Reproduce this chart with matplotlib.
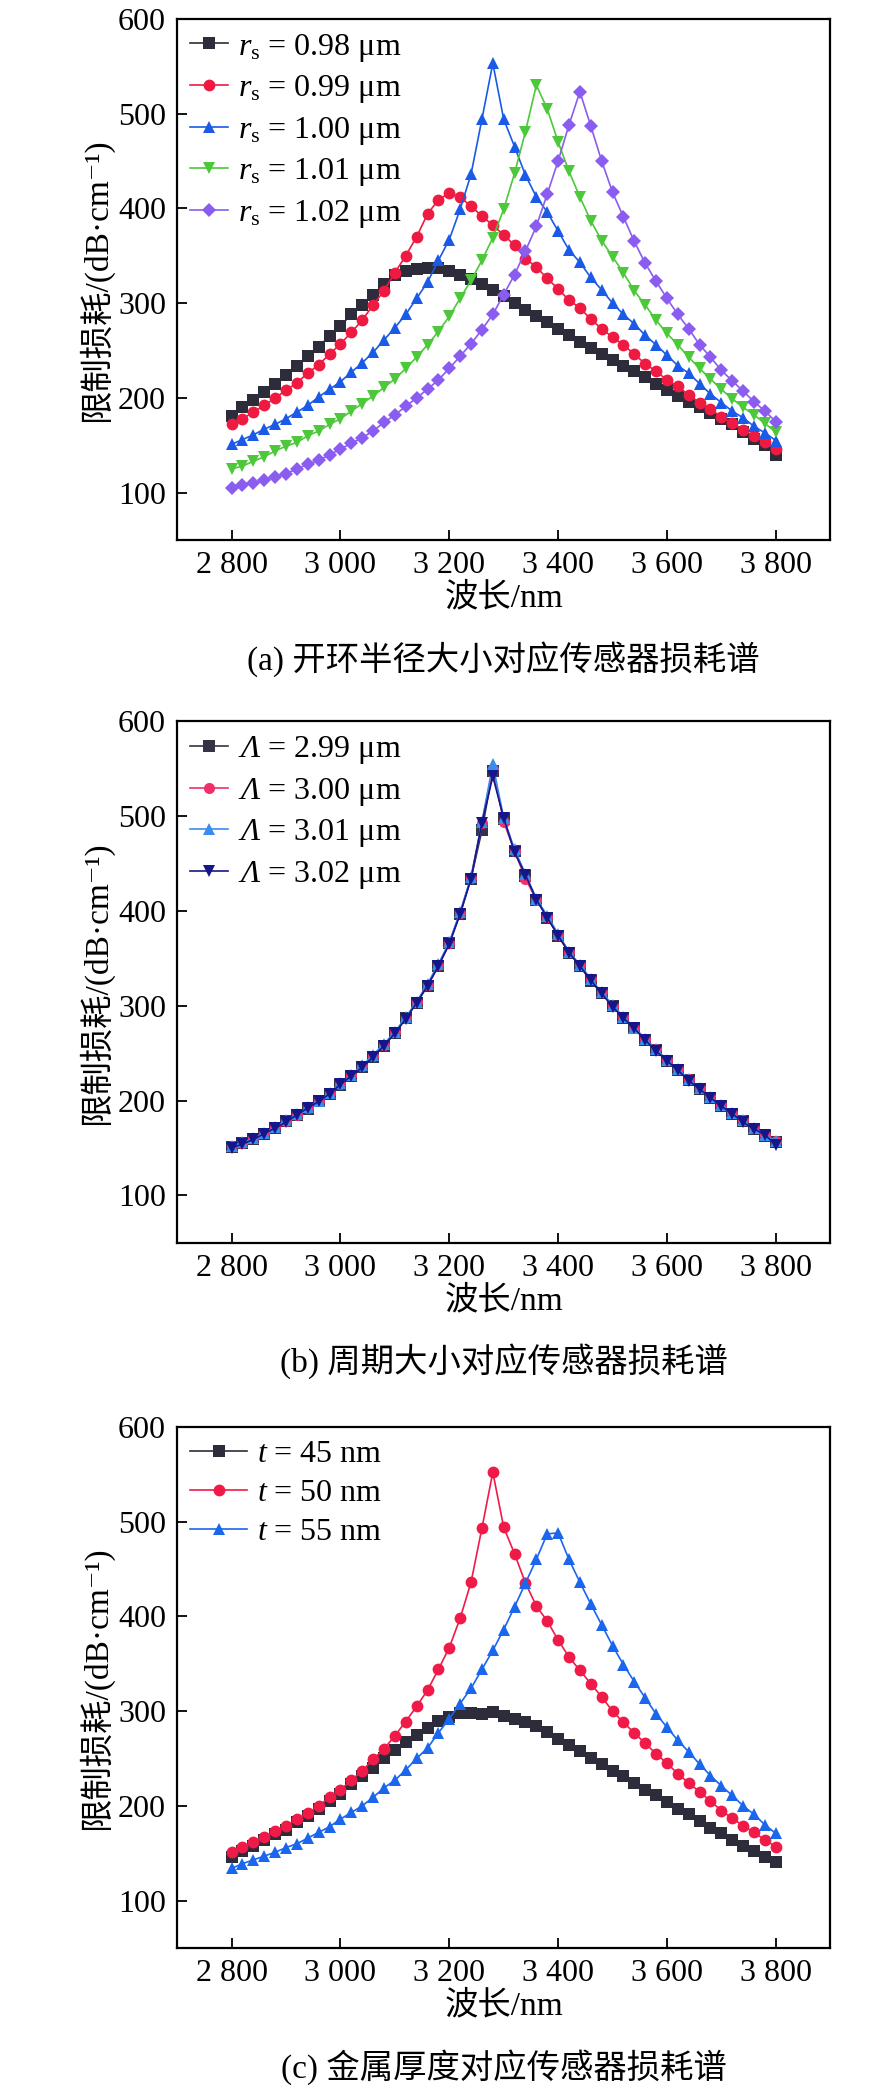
import matplotlib
matplotlib.use("Agg")
import matplotlib.pyplot as plt
from matplotlib.ticker import FixedLocator

plt.rcParams['font.family'] = ['Liberation Serif', 'Noto Sans CJK SC', 'DejaVu Serif']
plt.rcParams['mathtext.fontset'] = 'custom'
plt.rcParams['mathtext.rm'] = 'Liberation Serif'
plt.rcParams['mathtext.it'] = 'Liberation Serif:italic'
# capital Greek is forced upright in \mathit, so bf slot carries the italic face
plt.rcParams['mathtext.bf'] = 'Liberation Serif:italic'

# wavelength in nm, one point every 20 nm
wavelength = list(range(2800, 3801, 20))

# (a) ring opening radius
rs_098 = [181, 190, 198, 206, 215, 224, 234, 244, 254, 265,
          276, 288, 298, 309, 320, 330, 334, 336, 337, 337,
          334, 330, 325, 320, 314, 307, 300, 293, 286, 280,
          273, 266, 259, 253, 246, 240, 234, 228, 222, 215,
          208, 202, 196, 190, 184, 178, 172, 164, 157, 150, 140]
rs_099 = [172, 178, 185, 192, 200, 208, 216, 226, 235, 246,
          257, 269, 282, 298, 313, 332, 350, 370, 394, 409,
          416, 412, 402, 392, 382, 372, 361, 347, 338, 326,
          315, 303, 295, 283, 273, 264, 256, 246, 236, 228,
          219, 212, 203, 195, 188, 180, 173, 166, 160, 153, 146]
rs_100 = [151, 156, 161, 167, 172, 178, 185, 192, 201, 209,
          217, 227, 237, 248, 261, 274, 288, 305, 322, 345,
          367, 399, 436, 494, 553, 494, 465, 435, 412, 396,
          376, 356, 343, 327, 314, 300, 288, 278, 266, 256,
          245, 234, 226, 215, 204, 195, 186, 179, 170, 163, 155]
rs_101 = [125, 128, 133, 138, 144, 149, 153, 160, 165, 172,
          178, 186, 194, 202, 211, 220, 231, 243, 256, 270,
          286, 305, 324, 345, 369, 399, 437, 481, 530, 505,
          470, 439, 412, 387, 366, 349, 332, 313, 298, 282,
          268, 256, 243, 231, 220, 209, 199, 190, 182, 173, 164]
rs_102 = [105, 108, 110, 113, 117, 120, 125, 130, 134, 140,
          146, 152, 158, 165, 174, 182, 191, 200, 209, 219,
          231, 244, 257, 272, 288, 309, 330, 355, 381, 415,
          450, 488, 523, 487, 450, 417, 391, 365, 342, 323,
          305, 288, 273, 256, 243, 229, 218, 207, 196, 186, 175]

# (b) period
lam_299 = [151, 155, 159, 165, 171, 178, 185, 191, 199, 207,
           216, 226, 235, 246, 258, 271, 287, 303, 321, 342,
           366, 397, 434, 485, 548, 497, 463, 437, 412, 393,
           374, 356, 342, 326, 313, 300, 287, 276, 264, 253,
           242, 232, 222, 212, 203, 194, 186, 178, 170, 163, 156]
lam_300 = [152, 155, 160, 166, 172, 178, 185, 192, 200, 208,
           217, 227, 236, 247, 259, 272, 287, 304, 322, 343,
           366, 398, 435, 493, 550, 494, 463, 434, 412, 394,
           375, 357, 343, 328, 314, 300, 288, 277, 265, 254,
           243, 233, 223, 213, 204, 195, 187, 179, 171, 164, 157]
lam_301 = [152, 156, 160, 166, 172, 179, 186, 193, 200, 208,
           218, 227, 237, 248, 260, 272, 288, 304, 323, 344,
           367, 399, 436, 494, 555, 498, 465, 439, 413, 395,
           376, 357, 343, 328, 314, 301, 288, 277, 265, 254,
           243, 233, 223, 213, 204, 195, 187, 179, 171, 164, 157]
lam_302 = [150, 154, 159, 165, 171, 177, 185, 192, 199, 207,
           217, 226, 235, 246, 258, 271, 286, 303, 321, 342,
           365, 397, 434, 493, 542, 498, 462, 438, 412, 393,
           374, 356, 342, 327, 313, 299, 287, 276, 264, 252,
           242, 232, 221, 212, 203, 194, 186, 177, 170, 164, 153]

# (c) metal thickness
t_45 = [146, 152, 158, 164, 170, 175, 183, 189, 197, 205,
        213, 223, 231, 240, 250, 259, 267, 275, 282, 290,
        294, 298, 298, 297, 299, 295, 292, 289, 284, 278,
        271, 264, 258, 251, 244, 237, 231, 224, 217, 211,
        204, 197, 191, 184, 177, 171, 164, 158, 152, 146, 141]
t_50 = [151, 157, 162, 167, 173, 179, 186, 192, 200, 209,
        217, 227, 237, 249, 260, 274, 289, 305, 322, 344,
        367, 398, 436, 493, 552, 494, 466, 435, 411, 395,
        375, 357, 343, 329, 315, 300, 288, 277, 266, 255,
        245, 234, 224, 215, 205, 195, 187, 179, 172, 164, 157]
t_55 = [134, 139, 143, 147, 151, 156, 160, 166, 172, 178,
        186, 193, 200, 209, 219, 227, 238, 250, 261, 277,
        292, 308, 324, 344, 364, 386, 410, 435, 460, 487,
        488, 460, 436, 413, 391, 369, 349, 331, 314, 297,
        283, 269, 257, 244, 232, 221, 211, 200, 191, 180, 171]

xticks = [2800, 3000, 3200, 3400, 3600, 3800]
xtick_labels = ['2 800', '3 000', '3 200', '3 400', '3 600', '3 800']
yticks = [100, 200, 300, 400, 500, 600]

panel_a = [
    (rs_098, r'$\mathit{r}_\mathrm{s}$ = 0.98 μm', '#2c2c3a', 's', 8),
    (rs_099, r'$\mathit{r}_\mathrm{s}$ = 0.99 μm', '#ee1a42', 'o', 8.5),
    (rs_100, r'$\mathit{r}_\mathrm{s}$ = 1.00 μm', '#1a5ae6', '^', 9),
    (rs_101, r'$\mathit{r}_\mathrm{s}$ = 1.01 μm', '#4cc83a', 'v', 9),
    (rs_102, r'$\mathit{r}_\mathrm{s}$ = 1.02 μm', '#8a5cf0', 'D', 7.5),
]
panel_b = [
    (lam_299, r'$\mathbf{\Lambda}$ = 2.99 μm', '#343446', 's', 8),
    (lam_300, r'$\mathbf{\Lambda}$ = 3.00 μm', '#f0306a', 'o', 8),
    (lam_301, r'$\mathbf{\Lambda}$ = 3.01 μm', '#3a8cf0', '^', 8.5),
    (lam_302, r'$\mathbf{\Lambda}$ = 3.02 μm', '#16168c', 'v', 8.5),
]
panel_c = [
    (t_45, r'$\mathit{t}$ = 45 nm', '#2c2c3a', 's', 8),
    (t_50, r'$\mathit{t}$ = 50 nm', '#f01a48', 'o', 8.5),
    (t_55, r'$\mathit{t}$ = 55 nm', '#1a66ec', '^', 8),
]

fig = plt.figure(figsize=(8.86, 20.85), dpi=100)

panels = [
    (panel_a, 0.741, '(a) 开环半径大小对应传感器损耗谱', 1.2),
    (panel_b, 0.404, '(b) 周期大小对应传感器损耗谱', 1.2),
    (panel_c, 0.0657, '(c) 金属厚度对应传感器损耗谱', 1.8),
]

for series, bottom, caption, hlen in panels:
    ax = fig.add_axes([0.200, bottom, 0.737, 0.250])
    for vals, label, color, marker, ms in series:
        ax.plot(wavelength, vals, color=color, marker=marker, markersize=ms,
                markeredgewidth=0, linewidth=1.2, label=label)
    ax.set_xlim(2700, 3900)
    ax.set_ylim(50, 600)
    ax.xaxis.set_major_locator(FixedLocator(xticks))
    ax.set_xticklabels(xtick_labels)
    ax.yaxis.set_major_locator(FixedLocator(yticks))
    ax.tick_params(direction='in', length=7, width=1.3, labelsize=23, pad=8)
    for sp in ax.spines.values():
        sp.set_linewidth(1.6)
    ax.set_xlabel('波长/nm', fontsize=24, labelpad=2)
    ax.set_ylabel('限制损耗/(dB·cm⁻¹)', fontsize=24, labelpad=4)
    ax.legend(loc='upper left', frameon=False, fontsize=23, borderaxespad=0,
              borderpad=0.4, labelspacing=0.3, handlelength=hlen,
              handletextpad=0.3)
    ax.text(0.5, -0.228, caption, transform=ax.transAxes, ha='center',
            va='center', fontsize=24)

fig.savefig('out.png', dpi=100)
